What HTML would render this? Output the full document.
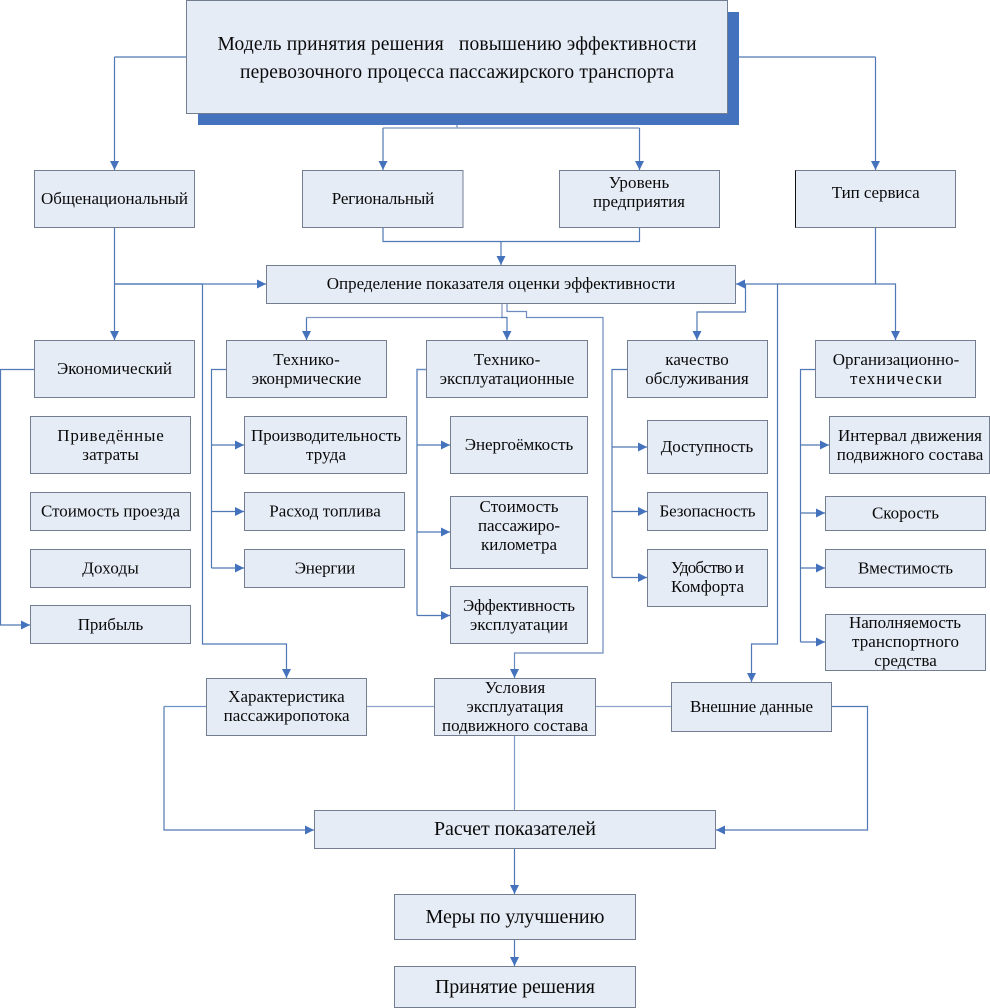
<!DOCTYPE html>
<html lang="ru"><head><meta charset="utf-8"><title>Модель принятия решения</title>
<style>
html,body{margin:0;padding:0;background:#fff;width:990px;height:1008px;overflow:hidden}
svg{display:block}
text{font-family:"Liberation Serif","DejaVu Serif",serif;font-size:17px;fill:#0a0a0a;text-anchor:middle;white-space:pre}
.b rect,rect.b{fill:#E6ECF6;stroke:#737F91;stroke-width:1}
.l path{fill:none;stroke:#4F78B5;stroke-width:1.2}
.a path{fill:none;stroke:#4F78B5;stroke-width:1.2;marker-end:url(#m)}
</style></head><body>
<svg width="990" height="1008" viewBox="0 0 990 1008" xmlns="http://www.w3.org/2000/svg">
<defs><marker id="m" markerUnits="userSpaceOnUse" markerWidth="10" markerHeight="10" refX="9" refY="4.5" orient="auto"><path d="M0,0L9,4.5L0,9z" fill="#4472BC"/></marker></defs>

<g class="l">
<path d="M186 57H114.5"/><path d="M739 57H875.5"/>
<path d="M457 125V128M383 128H639.5" style="stroke:#8FA6C9;stroke-width:1.6"/>
<path d="M383 227V241.5H639.5V227"/>
<path d="M114.5 284H202.5"/>
<path d="M875.5 227V284"/>
<path d="M875.5 284H745.5"/>
<path d="M502 303V317.5H306.5" style="stroke:#7E97C2"/>
<path d="M226 369.5H211.5V568"/>
<path d="M426 369.5H417V615.5" style="stroke:#6E8FC4;stroke-width:1.5"/>
<path d="M627 369.5H612V577.5"/>
<path d="M815 369.5H800.5V642"/>
<path d="M206 706.5H164" style="stroke:#6F90C2"/>
<path d="M366 706.5H434M595 706.5H671" style="stroke:#8AA3C9"/>
<path d="M514.5 735V810" style="stroke:#7E9AC6"/>
</g>
<g class="a">
<path d="M114.5 57V170"/>
<path d="M875.5 57V170"/>
<path d="M383 128V170"/>
<path d="M639.5 128V170"/>
<path d="M501 241.5V265"/>
<path d="M114.5 227V340"/>
<path d="M114.5 284H266"/>
<path d="M202.5 284V644H286.5V678"/>
<path d="M745.5 284H736"/>
<path d="M875.5 284H895.5V340"/>
<path d="M777.5 284V644H751.5V682"/>
<path d="M745.5 284V312H697V340"/>
<path d="M306.5 317.5V340"/>
<path d="M501 317.5H507V340"/>
<path d="M507 303V311.5H526.5V317.5H603V653H514.5V678" style="stroke:#6C8BBE"/>
<path d="M34 369.5H0.5V625H30"/>
<path d="M211.5 445H244"/><path d="M211.5 511.5H244"/><path d="M211.5 568H244"/>
<path d="M417 445H450"/><path d="M417 532H450"/><path d="M417 615.5H450"/>
<path d="M612 447H647"/><path d="M612 511.5H647"/><path d="M612 577.5H647"/>
<path d="M800.5 445H829"/><path d="M800.5 513H825"/><path d="M800.5 568H825"/><path d="M800.5 642H825"/>
<path d="M164 706.5V830H314"/>
<path d="M831 706.5H867.5V830H716"/>
<path d="M514.5 848V894"/>
<path d="M514.5 939V966"/>
</g>

<rect x="198" y="12" width="541" height="113" fill="#4472BC"/>
<g class="b">
<rect x="186.5" y="0.5" width="541" height="113"/>
<rect x="34.5" y="170.5" width="160" height="57"/>
<rect x="302.5" y="170.5" width="160.5" height="57"/>
<rect x="559.5" y="170.5" width="160" height="57"/>
<rect x="795.5" y="170.5" width="160" height="57"/>
<rect x="266.5" y="265.5" width="469" height="38"/>
<rect x="34.5" y="340.5" width="160" height="57"/>
<rect x="226.5" y="340.5" width="160" height="57"/>
<rect x="426.5" y="340.5" width="161" height="57"/>
<rect x="627.5" y="340.5" width="140" height="57"/>
<rect x="815.5" y="340.5" width="160" height="57"/>
<rect x="30.5" y="416.5" width="160" height="57"/>
<rect x="30.5" y="492.5" width="160" height="38"/>
<rect x="30.5" y="549.5" width="160" height="38"/>
<rect x="30.5" y="605.5" width="160" height="38"/>
<rect x="244.5" y="416.5" width="162" height="57"/>
<rect x="244.5" y="492.5" width="160" height="38"/>
<rect x="244.5" y="549.5" width="160" height="38"/>
<rect x="450.5" y="416.5" width="137" height="57"/>
<rect x="450.5" y="496.5" width="137" height="72"/>
<rect x="450.5" y="586.5" width="137" height="57"/>
<rect x="647.5" y="420.5" width="120" height="53"/>
<rect x="647.5" y="492.5" width="120" height="38"/>
<rect x="647.5" y="549.5" width="120" height="57"/>
<rect x="829.5" y="416.5" width="160" height="57"/>
<rect x="825.5" y="496.5" width="160" height="34"/>
<rect x="825.5" y="549.5" width="160" height="38"/>
<rect x="825.5" y="614.5" width="160" height="56"/>
<rect x="206.5" y="678.5" width="160" height="57"/>
<rect x="434.5" y="678.5" width="161" height="57"/>
<rect x="671.5" y="682.5" width="160" height="49"/>
<rect x="314.5" y="810.5" width="401" height="38"/>
<rect x="394.5" y="894.5" width="241" height="45"/>
<rect x="394.5" y="966.5" width="241" height="41"/>
</g>
<path d="M795.5 170.5V227.5" stroke="#111" stroke-width="1" fill="none"/>

<text x="457" y="50" textLength="479" style="font-size:19.5px">Модель принятия решения   повышению эффективности</text>
<text x="457" y="78" textLength="434" style="font-size:19.5px">перевозочного процесса пассажирского транспорта</text>
<text x="114.5" y="204" textLength="147">Общенациональный</text>
<text x="383" y="204" textLength="102.5">Региональный</text>
<text x="639" y="188" textLength="60.6">Уровень</text>
<text x="639" y="207" textLength="92">предприятия</text>
<text x="875.7" y="198" textLength="88">Тип сервиса</text>
<text x="501" y="289" textLength="348.5">Определение показателя оценки эффективности</text>
<text x="114.5" y="374" textLength="115">Экономический</text>
<text x="306.5" y="365" textLength="66.5">Технико-</text>
<text x="306.5" y="384" textLength="109.5">эконрмические</text>
<text x="507" y="365" textLength="66.5">Технико-</text>
<text x="507" y="384" textLength="134.5">эксплуатационные</text>
<text x="697" y="365" textLength="63.5">качество</text>
<text x="697" y="384" textLength="103.5">обслуживания</text>
<text x="896" y="365" textLength="126.5">Организационно-</text>
<text x="896" y="384" textLength="92">технически</text>
<text x="110.5" y="441" textLength="106.5">Приведённые</text>
<text x="110.5" y="460" textLength="56.5">затраты</text>
<text x="110.5" y="516.5" textLength="139">Стоимость проезда</text>
<text x="110.5" y="573.5" textLength="56.5">Доходы</text>
<text x="110.5" y="630" textLength="65.5">Прибыль</text>
<text x="326" y="441" textLength="150">Производительность</text>
<text x="326" y="460" textLength="40">труда</text>
<text x="325" y="516.5" textLength="111.5">Расход топлива</text>
<text x="325" y="573.5" textLength="60.5">Энергии</text>
<text x="519" y="450" textLength="108.5">Энергоёмкость</text>
<text x="519" y="512" textLength="79">Стоимость</text>
<text x="519" y="531" textLength="82">пассажиро-</text>
<text x="519" y="550" textLength="76">километра</text>
<text x="519" y="611" textLength="112">Эффективность</text>
<text x="519" y="630" textLength="98">эксплуатации</text>
<text x="707" y="452" textLength="92.5">Доступность</text>
<text x="707.5" y="516.5" textLength="96">Безопасность</text>
<text x="707.5" y="573" textLength="73">Удобство и</text>
<text x="707.5" y="592" textLength="73">Комфорта</text>
<text x="910" y="441" textLength="144">Интервал движения</text>
<text x="910" y="460" textLength="146.5">подвижного состава</text>
<text x="905.5" y="518.5" textLength="67">Скорость</text>
<text x="905.5" y="573.5" textLength="95">Вместимость</text>
<text x="905" y="628" textLength="112">Наполняемость</text>
<text x="905.5" y="647" textLength="107">транспортного</text>
<text x="905.5" y="666" textLength="62.5">средства</text>
<text x="286.4" y="702" textLength="116.5">Характеристика</text>
<text x="286.6" y="721" textLength="126">пассажиропотока</text>
<text x="515" y="693" textLength="60.5">Условия</text>
<text x="515" y="712" textLength="97">эксплуатация</text>
<text x="515" y="731" textLength="146">подвижного состава</text>
<text x="751.5" y="712" textLength="123">Внешние данные</text>
<text x="515" y="835" textLength="162" style="font-size:20px">Расчет показателей</text>
<text x="515" y="923" textLength="179" style="font-size:20px">Меры по улучшению</text>
<text x="515" y="993" textLength="160" style="font-size:20px">Принятие решения</text>
</svg>
</body></html>
